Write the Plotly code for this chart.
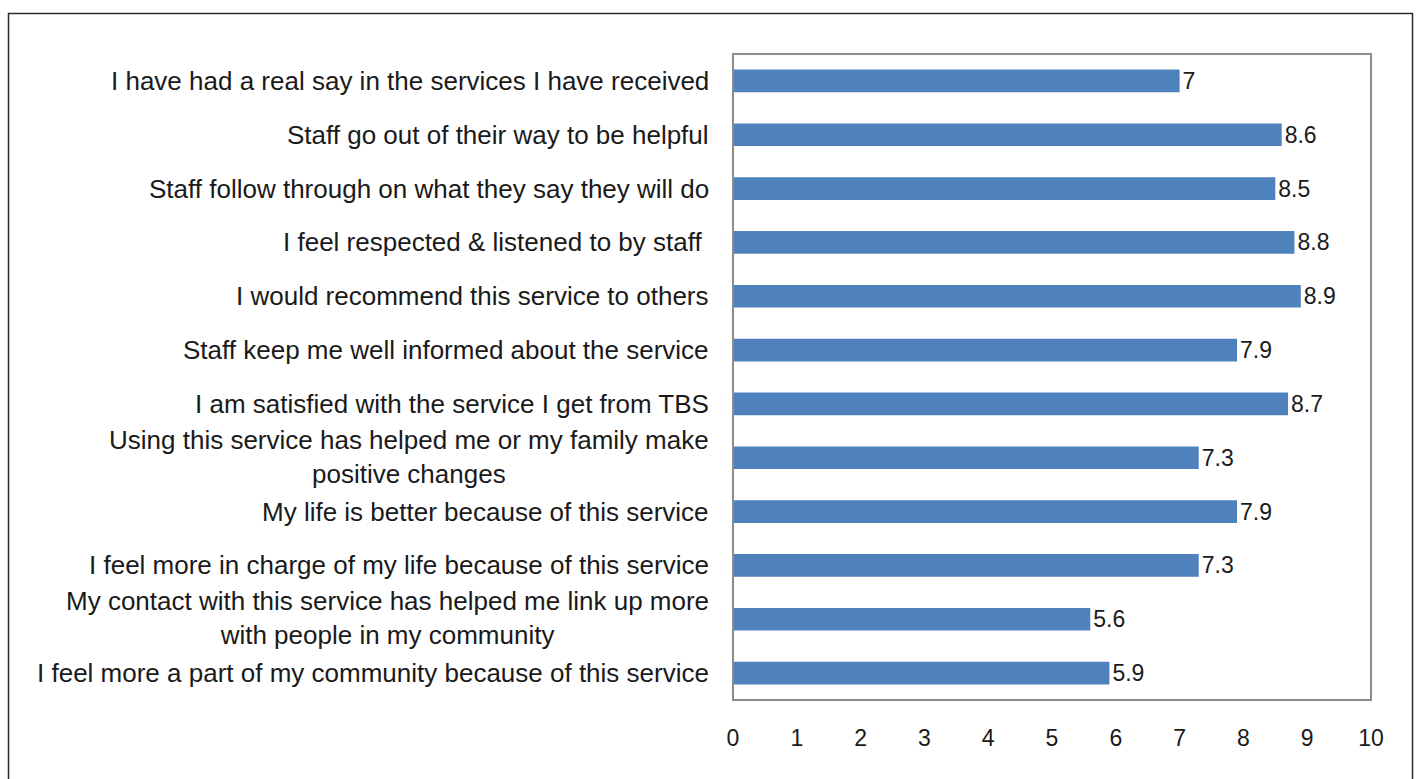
import plotly.graph_objects as go

categories = [
    "I have had a real say in the services I have received",
    "Staff go out of their way to be helpful",
    "Staff follow through on what they say they will do",
    "I feel respected & listened to by staff ",
    "I would recommend this service to others",
    "Staff keep me well informed about the service",
    "I am satisfied with the service I get from TBS",
    "Using this service has helped me or my family make<br>positive changes",
    "My life is better because of this service",
    "I feel more in charge of my life because of this service",
    "My contact with this service has helped me link up more<br>with people in my community",
    "I feel more a part of my community because of this service",
]
values = [7, 8.6, 8.5, 8.8, 8.9, 7.9, 8.7, 7.3, 7.9, 7.3, 5.6, 5.9]
value_labels = ["7", "8.6", "8.5", "8.8", "8.9", "7.9", "8.7", "7.3", "7.9", "7.3", "5.6", "5.9"]
x_ticks = list(range(0, 11))

FONT = "Liberation Sans, Arial, sans-serif"
TXT = "#1a1a1a"

fig = go.Figure(
    go.Bar(
        x=values,
        y=categories,
        orientation="h",
        marker=dict(color="#4F81BD", line=dict(width=0)),
        width=0.42,
        text=value_labels,
        textposition="outside",
        constraintext="none",
        textfont=dict(family=FONT, size=23, color=TXT),
        cliponaxis=False,
    )
)

for cat in categories:
    two = "<br>" in cat
    fig.add_annotation(
        x=0, xref="paper", xshift=-22, xanchor="right",
        y=cat, yref="y", yanchor="middle", yshift=1 if two else 0,
        text=cat, showarrow=False, align="center",
        font=dict(family=FONT, size=26, color=TXT),
    )

# plot-area box
fig.add_shape(type="rect", xref="paper", yref="paper", x0=0, x1=1, y0=0, y1=1,
              line=dict(color="#8c8c88", width=2), layer="above")
# outer frame
fig.add_shape(type="rect", xref="paper", yref="paper",
              x0=(8.5 - 733) / 638, x1=(1412.5 - 733) / 638,
              y0=(700 - 800) / 646, y1=(700 - 13.5) / 646,
              line=dict(color="#2a2a2a", width=1.5))

fig.update_layout(
    width=1418, height=779,
    margin=dict(l=733, r=47, t=54, b=79),
    paper_bgcolor="white", plot_bgcolor="white",
    showlegend=False,
    xaxis=dict(range=[0, 10], tickvals=x_ticks, showgrid=False, zeroline=False,
               showline=False, ticks="", ticklabelstandoff=22,
               tickfont=dict(family=FONT, size=23, color=TXT), fixedrange=True),
    yaxis=dict(categoryorder="array", categoryarray=categories,
               showticklabels=False, showgrid=False, zeroline=False, showline=False,
               ticks="", range=[11.5, -0.5]),
)

fig.write_html("out.html")
